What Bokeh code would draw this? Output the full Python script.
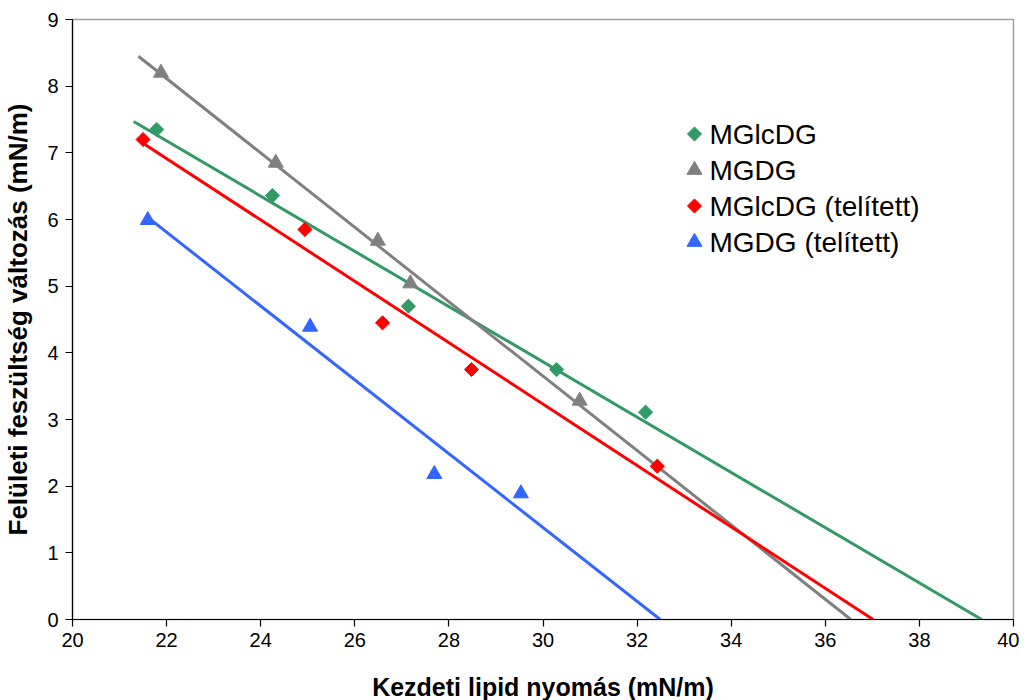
import numpy as np
from bokeh.plotting import figure
from bokeh.models import FixedTicker, Range1d
from bokeh.core.properties import value
from bokeh.embed import file_html
from bokeh.resources import INLINE

# ---- data ----
series_names = ["MGlcDG", "MGDG", "MGlcDG (telített)", "MGDG (telített)"]

mglcdg_x = [21.79, 24.25, 27.14, 30.29, 32.18]
mglcdg_y = [7.35, 6.36, 4.70, 3.75, 3.11]

mgdg_x = [21.88, 24.32, 26.49, 27.18, 30.78]
mgdg_y = [8.20, 6.85, 5.68, 5.04, 3.28]

mglcdg_sat_x = [21.50, 24.94, 26.59, 28.48, 32.43]
mglcdg_sat_y = [7.20, 5.85, 4.45, 3.75, 2.30]

mgdg_sat_x = [21.60, 25.05, 27.69, 29.53]
mgdg_sat_y = [5.99, 4.39, 2.18, 1.89]

# trendlines start x (Excel trendline with backward forecast), run to y = 0
trend_start = [21.30, 21.40, 21.50, 21.60]

x_ticks = [20, 22, 24, 26, 28, 30, 32, 34, 36, 38, 40]
y_ticks = [0, 1, 2, 3, 4, 5, 6, 7, 8, 9]

x_label = "Kezdeti lipid nyomás (mN/m)"
y_label = "Felületi feszültség változás (mN/m)"

# ---- styles ----
colors = ["#339966", "#808080", "#ff0000", "#3366ff"]
markers = ["square", "triangle", "square", "triangle"]
angles = [np.pi / 4, 0, np.pi / 4, 0]
sizes = [10, 15, 10, 15]
FONT = "Liberation Sans"
FW, FH = 941, 600

p = figure(
    frame_width=FW, frame_height=FH,
    x_range=(20, 40), y_range=(0, 9),
    output_backend="svg", toolbar_location=None,
    min_border_left=70, min_border_right=6, min_border_top=19, min_border_bottom=60,
)
p.background_fill_color = "white"
p.border_fill_color = "white"
p.outline_line_color = "#a0a0a0"
p.outline_line_width = 1.5
p.grid.visible = False

for ax, ticks in ((p.xaxis[0], x_ticks), (p.yaxis[0], y_ticks)):
    ax.ticker = FixedTicker(ticks=ticks)
    ax.minor_tick_line_color = None
    ax.major_tick_in = 0
    ax.major_tick_out = 7
    ax.axis_line_color = "black"
    ax.axis_line_width = 1.2
    ax.major_tick_line_color = "black"
    ax.major_tick_line_width = 1.2
    ax.major_label_text_font = FONT
    ax.major_label_text_font_size = "20px"
    ax.major_label_text_color = "black"
    ax.axis_label_text_font = FONT
    ax.axis_label_text_font_style = "bold"
    ax.axis_label_text_color = "black"

p.xaxis.axis_label = x_label
p.yaxis.axis_label = y_label
p.xaxis.axis_label_text_font_size = "25px"
p.yaxis.axis_label_text_font_size = "26px"
p.xaxis.major_label_standoff = 6
p.yaxis.major_label_standoff = 7
p.xaxis.axis_label_standoff = 23
p.yaxis.axis_label_standoff = 11

data = [
    (mglcdg_x, mglcdg_y),
    (mgdg_x, mgdg_y),
    (mglcdg_sat_x, mglcdg_sat_y),
    (mgdg_sat_x, mgdg_sat_y),
]

for i, (xs, ys) in enumerate(data):
    slope, icpt = np.polyfit(xs, ys, 1)
    x0 = trend_start[i]
    x1 = -icpt / slope
    p.line([x0, x1], [slope * x0 + icpt, 0], line_color=colors[i], line_width=3)

for i, (xs, ys) in enumerate(data):
    p.scatter(xs, ys, marker=markers[i], size=sizes[i], angle=angles[i],
              fill_color=colors[i], line_color=colors[i], line_width=1)

# ---- legend drawn in frame pixel coordinates (so diamonds can be rotated) ----
p.extra_x_ranges = {"px": Range1d(0, FW)}
p.extra_y_ranges = {"py": Range1d(0, FH)}
leg_mx, leg_tx = 622, 637
leg_top, leg_step = 485.5, 36
for i, name in enumerate(series_names):
    yy = leg_top - leg_step * i
    p.scatter([leg_mx], [yy], marker=markers[i], size=sizes[i], angle=angles[i],
              fill_color=colors[i], line_color=colors[i], line_width=1,
              x_range_name="px", y_range_name="py")
    p.text([leg_tx], [yy], text=[name], text_font=value(FONT),
           text_font_size=value("28px"), text_baseline="middle",
           text_align="left", text_color="black",
           x_range_name="px", y_range_name="py")

open("out.html", "w").write(file_html(p, INLINE))
